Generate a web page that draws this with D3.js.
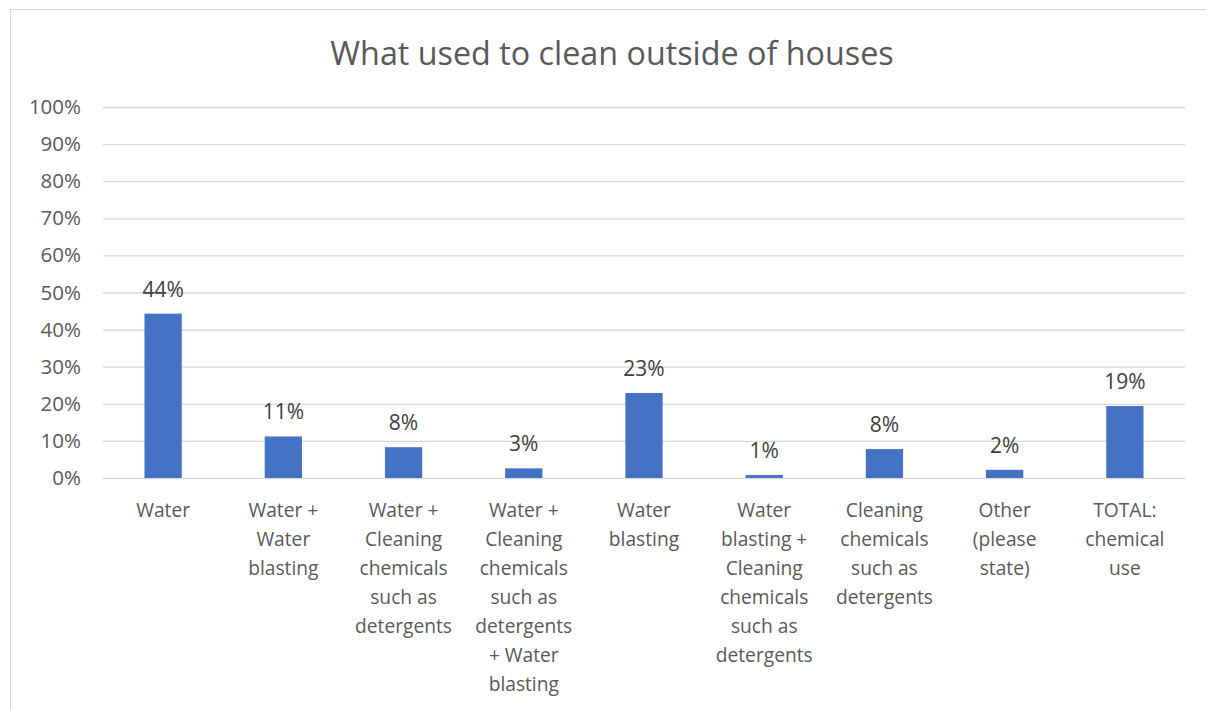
<!DOCTYPE html>
<html><head><meta charset="utf-8">
<script src="https://cdn.jsdelivr.net/npm/d3@7"></script>
<style>body{margin:0;background:#fff;font-family:"Open Sans",sans-serif;}</style>
</head><body>
<svg id="c" width="1206" height="709"></svg>
<script>
const categories = [
  "Water",
  "Water +\nWater\nblasting",
  "Water +\nCleaning\nchemicals\nsuch as\ndetergents",
  "Water +\nCleaning\nchemicals\nsuch as\ndetergents\n+ Water\nblasting",
  "Water\nblasting",
  "Water\nblasting +\nCleaning\nchemicals\nsuch as\ndetergents",
  "Cleaning\nchemicals\nsuch as\ndetergents",
  "Other\n(please\nstate)",
  "TOTAL:\nchemical\nuse"
];
const values = [0.443, 0.112, 0.083, 0.026, 0.229, 0.008, 0.078, 0.022, 0.194];
const yTicks = [0,0.1,0.2,0.3,0.4,0.5,0.6,0.7,0.8,0.9,1.0];
const title = "What used to clean outside of houses";

const FONT = '"Open Sans",sans-serif';
const svg = d3.select("#c");
svg.append("rect").attr("x",10.5).attr("y",9.5).attr("width",1200).attr("height",710)
  .attr("fill","#fff").attr("stroke","#d9d9d9");

const x = d3.scaleBand().domain(categories).range([103,1185]).paddingInner(0.69).paddingOuter(0.345);
const y = d3.scaleLinear().domain([0,1]).range([478,107]);

svg.append("text").attr("x",612).attr("y",65).attr("text-anchor","middle")
  .attr("font-family",FONT).attr("font-size",32.3).attr("fill","#595959").text(title);

const ya = svg.append("g").attr("transform","translate(103,0)")
  .call(d3.axisLeft(y).tickValues(yTicks).tickFormat(d3.format(".0%")).tickSize(-1082).tickPadding(22));
ya.select(".domain").remove();
ya.selectAll(".tick line").attr("stroke","#d9d9d9").attr("stroke-width",1.3);
ya.selectAll(".tick text").attr("font-size",20.5).attr("fill","#595959").attr("font-family",FONT);

svg.selectAll("rect.bar").data(values).enter().append("rect").attr("class","bar")
  .attr("x",(d,i)=>x(categories[i])).attr("width",x.bandwidth())
  .attr("y",d=>y(d)).attr("height",d=>y(0)-y(d)).attr("fill","#4472C4");

svg.selectAll("text.lbl").data(values).enter().append("text").attr("class","lbl")
  .attr("x",(d,i)=>x(categories[i])+x.bandwidth()/2).attr("y",d=>y(d)-17)
  .attr("text-anchor","middle").attr("font-family",FONT).attr("font-size",21).attr("fill","#404040")
  .text(d=>Math.round(d*100)+"%");

const xa = svg.append("g");
categories.forEach((c,i)=>{
  const t = xa.append("text").attr("x",x(c)+x.bandwidth()/2).attr("y",517)
    .attr("text-anchor","middle").attr("font-family",FONT).attr("font-size",19.2).attr("fill","#595959");
  c.split("\n").forEach((line,j)=>{
    t.append("tspan").attr("x",x(c)+x.bandwidth()/2).attr("dy",j?29:0).text(line);
  });
});
</script>
</body></html>
